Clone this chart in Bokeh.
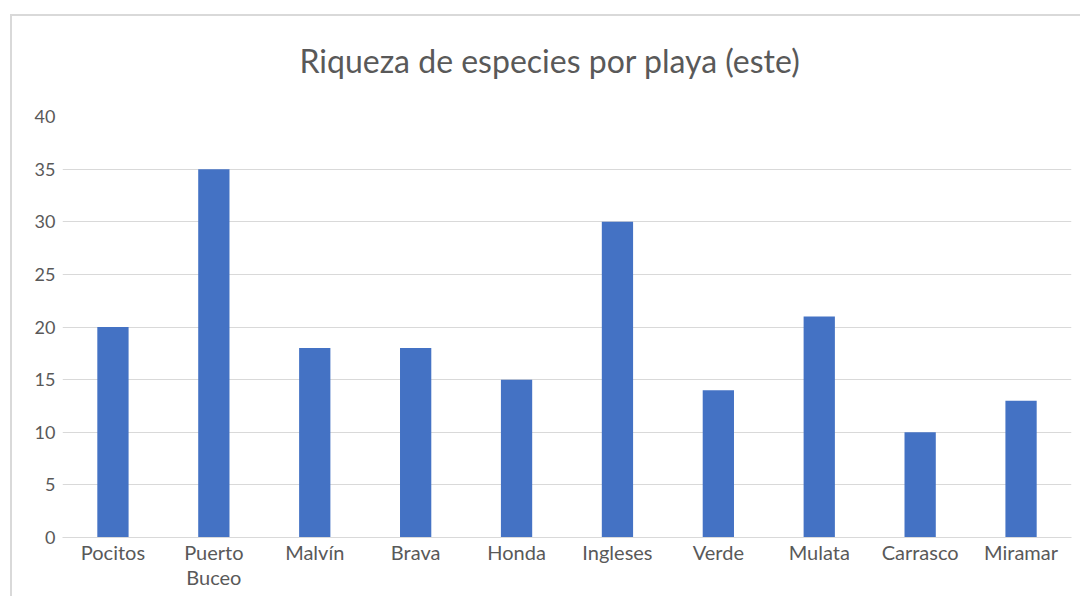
from bokeh.plotting import figure
from bokeh.models import ColumnDataSource, FixedTicker, CustomJSTickFormatter
from bokeh.embed import file_html
from bokeh.resources import INLINE

playas = ["Pocitos", "Puerto Buceo", "Malvín", "Brava", "Honda", "Ingleses",
          "Verde", "Mulata", "Carrasco", "Miramar"]
riqueza = [20, 35, 18, 18, 15, 30, 14, 21, 10, 13]
y_ticks = [0, 5, 10, 15, 20, 25, 30, 35, 40]
titulo = "Riqueza de especies por playa (este)"

FONT = "Lato"
GRAY = "#595959"
GRID = "#d9d9d9"

src = ColumnDataSource(data=dict(playa=playas, riqueza=riqueza))

p = figure(x_range=playas, y_range=(0, 40), width=1080, height=596,
           output_backend="svg", toolbar_location=None, title=titulo,
           min_border_left=62, min_border_top=116, min_border_bottom=59,
           min_border_right=9)
# outer chart-area border (left and top edges), painted behind a transparent canvas
line = "linear-gradient(#d9d9d9, #d9d9d9)"
p.styles = {"background": f"{line} 10px 14px / 100% 2px no-repeat, "
                          f"{line} 10px 14px / 2px 100% no-repeat"}
p.border_fill_color = None
p.background_fill_color = "white"
p.x_range.range_padding = 0

p.vbar(x="playa", top="riqueza", width=0.31, source=src,
       fill_color="#4472C4", line_color=None)

p.title.align = "left"
p.title.offset = 237
p.title.text_font = FONT
p.title.text_font_size = "32px"
p.title.text_font_style = "normal"
p.title.text_color = GRAY
p.title.standoff = 74

p.outline_line_color = None
p.xgrid.grid_line_color = None
p.ygrid.grid_line_color = GRID
p.ygrid.grid_line_width = 1

p.yaxis.ticker = FixedTicker(ticks=y_ticks)
p.yaxis.axis_line_color = None
p.yaxis.major_tick_line_color = None
p.yaxis.minor_tick_line_color = None
p.yaxis.major_label_standoff = 1
p.yaxis.major_label_text_font = FONT
p.yaxis.major_label_text_font_size = "18px"
p.yaxis.major_label_text_color = GRAY

p.xaxis.axis_line_color = GRID
p.xaxis.axis_line_width = 1
p.xaxis.major_tick_line_color = None
p.xaxis.minor_tick_line_color = None
p.xaxis.major_label_standoff = -4
p.xaxis.major_label_text_font = FONT
p.xaxis.major_label_text_font_size = "20px"
p.xaxis.major_label_text_color = GRAY
p.xaxis.major_label_text_line_height = 1.05
p.xaxis.formatter = CustomJSTickFormatter(
    code="return tick == 'Puerto Buceo' ? 'Puerto\\nBuceo' : tick;")

open("out.html", "w").write(file_html(p, INLINE))
